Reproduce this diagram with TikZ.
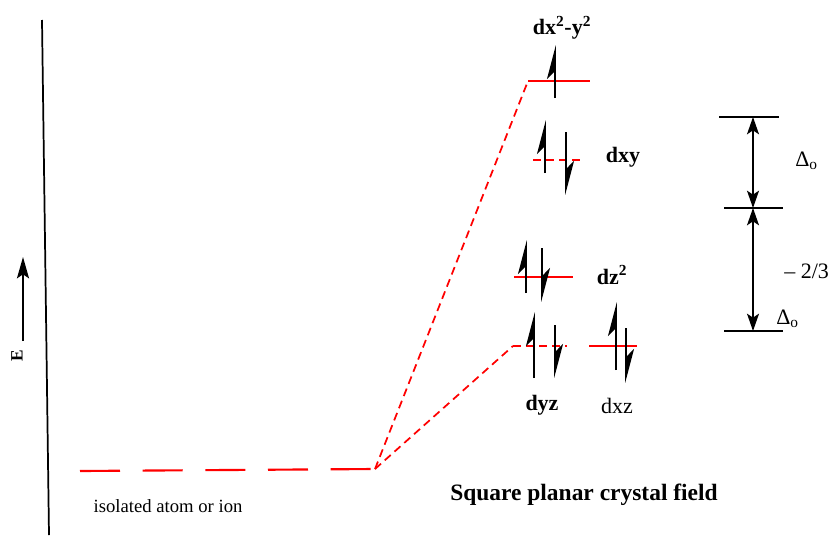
\documentclass[tikz,border=0pt]{standalone}
\usepackage{fontspec}
\setmainfont{Liberation Serif}
\usetikzlibrary{arrows.meta}
\tikzset{
  lvl/.style={red, line width=1.6pt},
  lvldash/.style={red, line width=1.6pt, dash pattern=on 6pt off 3.8pt},
  corr/.style={red, line width=1.3pt, dash pattern=on 6pt off 3.8pt},
  iso/.style={red, line width=1.6pt, dash pattern=on 30pt off 17pt},
  spin/.style={line width=1.3pt, -{Stealth[left,length=23pt,width=12pt,inset=6pt]}},
  dim/.style={line width=1.3pt, {Stealth[length=13pt,width=9pt,inset=3pt]}-{Stealth[length=13pt,width=9pt,inset=3pt]}},
  bar/.style={line width=1.3pt},
  lab/.style={font=\fontsize{16.5}{19}\selectfont\bfseries, inner sep=0pt},
  labn/.style={font=\fontsize{16.5}{19}\selectfont, inner sep=0pt},
}
\begin{document}
\begin{tikzpicture}[x=0.75pt,y=-0.75pt]
\useasboundingbox (0,0) rectangle (828,536);
% energy axis
\coordinate (axT) at (42,20);
\coordinate (axB) at (49,535);
\draw[line width=1.3pt] (axT) -- (axB);
\coordinate (eB) at (23,341);
\coordinate (eT) at (23,257);
\draw[line width=1.3pt, -{Stealth[length=16pt,width=9pt,inset=3pt]}] (eB) -- (eT);
\node[labn, font=\fontsize{13}{15}\selectfont\bfseries, rotate=90] (E) at (17,356) {E};
% isolated atom level
\coordinate (isoL) at (80,471);
\coordinate (iso) at (375,469);
\draw[iso] (isoL) -- (iso);
\node[labn, font=\fontsize{14}{16}\selectfont] (isolab) at (168,506) {isolated atom or ion};
% levels
\coordinate (x2L) at (528,81);  \coordinate (x2R) at (590,81);
\coordinate (xyL) at (533,160); \coordinate (xyR) at (582,160);
\coordinate (z2L) at (514,277); \coordinate (z2R) at (573,277);
\coordinate (yzL) at (513,346); \coordinate (yzR) at (567,346);
\coordinate (xzL) at (589,346); \coordinate (xzR) at (637,346);
\draw[corr] (iso) -- (x2L);
\draw[corr] (iso) -- (yzL);
\draw[lvl] (x2L) -- (x2R);
\draw[lvldash] (xyL) -- (xyR);
\draw[lvl] (z2L) -- (z2R);
\draw[lvldash] (yzL) -- (yzR);
\draw[lvl] (xzL) -- (xzR);
% electrons
\draw[spin] (555,98) -- (555,45);
\draw[spin] (545,173) -- (545,120);
\draw[spin] (566,132) -- (566,195);
\draw[spin] (526,293) -- (526,240);
\draw[spin] (542,248) -- (542,302);
\draw[spin] (534,378) -- (534,312);
\draw[spin] (555,325) -- (555,378);
\draw[spin] (616,370) -- (616,302);
\draw[spin] (626,328) -- (626,383);
% labels
\node[lab] (lx2) at (562,28) {dx\textsuperscript{2}-y\textsuperscript{2}};
\node[lab] (lxy) at (623,157) {dxy};
\node[lab] (lz2) at (612,275) {dz\textsuperscript{2}};
\node[lab] (lyz) at (542,405) {dyz};
\node[labn] (lxz) at (617,406) {dxz};
% splitting bars
\coordinate (b1L) at (719,117); \coordinate (b1R) at (779,117);
\coordinate (b2L) at (724,208); \coordinate (b2R) at (783,208);
\coordinate (b3L) at (724,331); \coordinate (b3R) at (783,331);
\draw[bar] (b1L) -- (b1R);
\draw[bar] (b2L) -- (b2R);
\draw[bar] (b3L) -- (b3R);
\coordinate (d1) at (753,117);
\coordinate (d2) at (753,208);
\coordinate (d3) at (753,331);
\draw[dim] (d1) -- (d2);
\draw[dim] (d2) -- (d3);
\node[labn, anchor=west] (D1) at (795,161) {Δ\textsubscript{o}};
\node[labn, anchor=west] (frac) at (784,271) {– 2/3};
\node[labn, anchor=west] (D2) at (776,319) {Δ\textsubscript{o}};
\node[lab, font=\fontsize{17.6}{20}\selectfont\bfseries] (title) at (584,495) {Square planar crystal field};
\end{tikzpicture}
\end{document}
